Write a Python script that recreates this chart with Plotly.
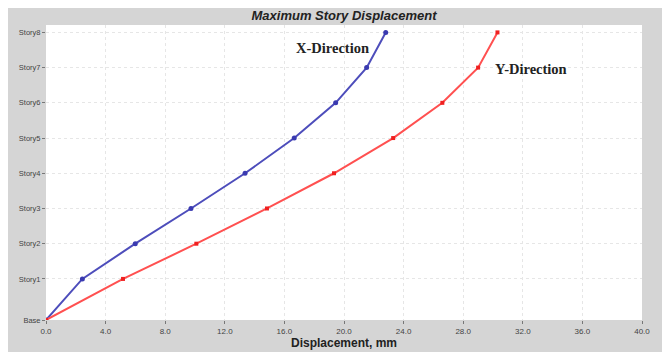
import plotly.graph_objects as go

stories = ["Base", "Story1", "Story2", "Story3", "Story4", "Story5", "Story6", "Story7", "Story8"]
elevations = [0, 3.5, 6.5, 9.5, 12.5, 15.5, 18.5, 21.5, 24.5]
x_dir = [0.0, 2.44, 5.99, 9.73, 13.36, 16.66, 19.44, 21.52, 22.8]
y_dir = [0.0, 5.17, 10.09, 14.83, 19.33, 23.3, 26.6, 29.0, 30.3]
x_ticks = [0, 4, 8, 12, 16, 20, 24, 28, 32, 36, 40]
x_tick_text = ["0.0", "4.0", "8.0", "12.0", "16.0", "20.0", "24.0", "28.0", "32.0", "36.0", "40.0"]

# page body has an 8px default margin; figure fills the rest of the 670x352 window
OFF = 8
W, H = 670 - OFF, 352 - OFF
L, R, T, B = 46 - OFF, 28, 25 - OFF, 32
PW, PH = W - L - R, H - T - B

def px(xs):  # screenshot pixel -> x domain fraction
    return (xs - OFF - L) / PW

def py(ys):  # screenshot pixel -> y domain fraction
    return (H - B - (ys - OFF)) / PH

fig = go.Figure()
fig.add_trace(go.Scatter(x=x_dir, y=elevations, mode="lines+markers", name="X-Direction",
                         line=dict(color="#4d4dbb", width=2), marker=dict(size=5, color="#3a3ab0")))
fig.add_trace(go.Scatter(x=y_dir, y=elevations, mode="lines+markers", name="Y-Direction",
                         line=dict(color="#ff5050", width=2), marker=dict(size=4, color="#f02020", symbol="square")))

fig.add_annotation(x=px(332), y=py(48), xref="x domain", yref="y domain", text="<b>X-Direction</b>",
                   xanchor="center", yanchor="middle", showarrow=False,
                   font=dict(family="Liberation Serif", size=14.5, color="#222"))
fig.add_annotation(x=px(531), y=py(69), xref="x domain", yref="y domain", text="<b>Y-Direction</b>",
                   xanchor="center", yanchor="middle", showarrow=False,
                   font=dict(family="Liberation Serif", size=14.5, color="#222"))

fig.update_layout(
    width=W, height=H,
    margin=dict(l=L, r=R, t=T, b=B, autoexpand=False),
    paper_bgcolor="#d5d5d5", plot_bgcolor="white",
    showlegend=False,
    title=dict(text="<b><i>Maximum Story Displacement</i></b>", x=(344 - OFF) / W, xanchor="center",
               y=1 - (15 - OFF) / H, yanchor="middle", font=dict(family="Liberation Sans", size=13, color="#222")),
    xaxis=dict(range=[0, 40], tickvals=x_ticks, ticktext=x_tick_text, showgrid=True, automargin=False,
               gridcolor="#e6e6e6", griddash="dot", gridwidth=1, zeroline=False,
               ticks="outside", ticklen=3, tickcolor="#777",
               tickfont=dict(family="Liberation Sans", size=8, color="#444"),
               title=dict(text="<b>Displacement, mm</b>", standoff=1,
                          font=dict(family="Liberation Sans", size=12, color="#222"))),
    yaxis=dict(range=[0, 25.13], tickvals=elevations, ticktext=stories, showgrid=True, automargin=False,
               gridcolor="#e6e6e6", griddash="dot", gridwidth=1, zeroline=False,
               ticks="outside", ticklen=3, tickcolor="#777",
               tickfont=dict(family="Liberation Sans", size=7.5, color="#444")),
)

fig.write_html("out.html")
